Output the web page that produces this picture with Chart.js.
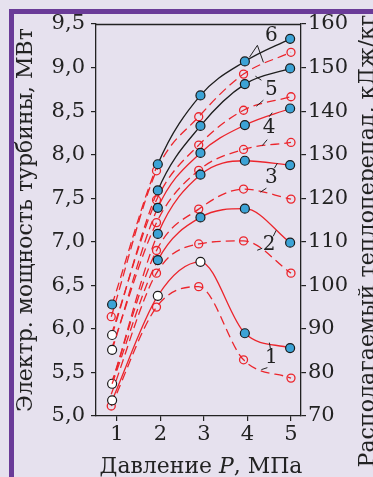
<!DOCTYPE html>
<html><head><meta charset="utf-8">
<script src="https://cdn.jsdelivr.net/npm/chart.js@4"></script>
<style>html,body{margin:0;padding:0;background:#e6e1ee;} #wrap{width:373px;height:477px;position:relative;}</style>
</head><body><div id="wrap"><canvas id="c"></canvas></div>
<script>
// ---- data ----
const pressureSolid  = [0.89, 1.94, 2.92, 3.94, 4.98];   // MPa
const pressureDashed = [0.87, 1.91, 2.88, 3.91, 5.00];   // MPa
// Electric power of the turbine, MW (left axis, solid lines)
const power1 = [5.18, 6.38, 6.77, 5.95, 5.78];
const power2 = [5.37, 6.79, 7.28, 7.38, 6.99];
const power3 = [5.37, 7.09, 7.77, 7.93, 7.88];
const power4 = [5.76, 7.39, 8.02, 8.34, 8.53];
const power5 = [5.93, 7.59, 8.33, 8.81, 8.99];
const power6 = [6.28, 7.89, 8.68, 9.07, 9.33];
// Available heat drop, kJ/kg (right axis, dashed lines)
const heat1 = [72.3, 95.0, 99.7, 82.9, 78.7];
const heat2 = [75.0, 102.8, 109.5, 110.2, 102.8];
const heat3 = [77.4, 108.0, 117.5, 122.1, 119.8];
const heat4 = [85.2, 114.4, 126.4, 131.2, 132.8];
const heat5 = [88.6, 119.6, 132.2, 140.2, 143.3];
const heat6 = [92.8, 126.3, 138.7, 148.5, 153.5];
const curveNames = ['1','2','3','4','5','6'];
const xTicks = [1, 2, 3, 4, 5];
const powerTicks = [5.0, 5.5, 6.0, 6.5, 7.0, 7.5, 8.0, 8.5, 9.0, 9.5];
const heatTicks = [70, 80, 90, 100, 110, 120, 130, 140, 150, 160];

// ---- style ----
const RED = '#ec252c', BLACK = '#1e1e1e', BLUE = '#3ca3d6', BG = '#e6e1ee', PURPLE = '#6a3b98', INK = '#222';
const DASH = [9, 5];
const SERIF = '"DejaVu Serif", "Liberation Serif", serif';
const solidSeries = [power1, power2, power3, power4, power5, power6];
const heatSeries = [heat1, heat2, heat3, heat4, heat5, heat6];
const solidMarks = [['w','w','w','b','b'],['n','b','b','b','b'],['w','b','b','b','b'],['w','b','b','b','b'],['w','b','b','b','b'],['b','b','b','b','b']];
const solidColors = [RED, RED, RED, RED, BLACK, BLACK];

const datasets = [];
heatSeries.forEach((vals, i) => {
  const marks = (i === 0 || i === 5) ? ['r','r','r','r','r'] : ['n','r','r','r','r'];
  datasets.push({
    data: vals.map((v, j) => ({x: pressureDashed[j], y: v})),
    yAxisID: 'y2', borderColor: RED, borderWidth: 1.3, borderDash: DASH,
    pointRadius: marks.map(m => m === 'n' ? 0 : 4),
    pointBorderColor: RED, pointBackgroundColor: 'rgba(0,0,0,0)', pointBorderWidth: 1.3,
    cubicInterpolationMode: 'monotone', fill: false, order: 2
  });
});
solidSeries.forEach((vals, i) => {
  const marks = solidMarks[i];
  datasets.push({
    data: vals.map((v, j) => ({x: pressureSolid[j], y: v})),
    yAxisID: 'y', borderColor: solidColors[i], borderWidth: 1.3,
    segment: {
      borderDash: ctx => (i > 0 && ctx.p0DataIndex === 0) ? DASH : undefined,
      borderColor: ctx => (i > 0 && ctx.p0DataIndex === 0) ? RED : undefined
    },
    pointRadius: marks.map(m => m === 'n' ? 0 : 4.5),
    pointBackgroundColor: marks.map(m => m === 'b' ? BLUE : '#ffffff'),
    pointBorderColor: '#1a1a1a', pointBorderWidth: 1.2,
    cubicInterpolationMode: 'monotone', fill: false, order: 1
  });
});

// curve labels (data coords) and leader offsets (px)
const labelCfg = [
  {p: 4.55, v: 5.67, lead: [[-1,-9,-2,-15],[-4,10,-10,12]]},
  {p: 4.50, v: 6.96, lead: [[4,-9,7,-15],[-7,3,-12,5]]},
  {p: 4.55, v: 7.73, lead: [[3,-10,6,-15],[-5,10,-11,14]]},
  {p: 4.50, v: 8.31, lead: [[0,-11,3,-15],[-2,12,-7,18]]},
  {p: 4.55, v: 8.74, lead: [[-10,-10,-16,-14],[-8,10,-15,16]]},
  {p: 4.55, v: 9.37, lead: [[-14,10,-22,22],[-14,10,-8,27]]}
];

function fitSize(ctx, parts, target, base) {
  let w = 0;
  parts.forEach(pt => { ctx.font = `${pt[1]}${base}px ${SERIF}`; w += ctx.measureText(pt[0]).width; });
  return base * target / w;
}
function drawParts(ctx, parts, size, cx, cy) {
  let w = 0;
  parts.forEach(pt => { ctx.font = `${pt[1]}${size}px ${SERIF}`; w += ctx.measureText(pt[0]).width; });
  let x = cx - w / 2;
  ctx.textAlign = 'left'; ctx.textBaseline = 'alphabetic';
  parts.forEach(pt => { ctx.font = `${pt[1]}${size}px ${SERIF}`; ctx.fillText(pt[0], x, cy); x += ctx.measureText(pt[0]).width; });
}

const deco = {
  id: 'deco',
  beforeDraw(chart) {
    const ctx = chart.ctx;
    ctx.save();
    ctx.fillStyle = BG; ctx.fillRect(0, 0, chart.width, chart.height);
    ctx.fillStyle = PURPLE;
    ctx.fillRect(9, 9, chart.width - 9, 5);
    ctx.fillRect(9, 9, 5, chart.height - 9);
    ctx.restore();
  },
  afterDraw(chart) {
    const ctx = chart.ctx, a = chart.chartArea;
    ctx.save();
    ctx.strokeStyle = INK; ctx.lineWidth = 1.3;
    ctx.beginPath(); ctx.moveTo(a.left, a.top + 0.5); ctx.lineTo(a.right, a.top + 0.5); ctx.stroke();
    ctx.fillStyle = INK;
    // x title
    const xParts = [['Давление ', ''], ['P', 'italic '], [', МПа', '']];
    const xs = fitSize(ctx, xParts, 203, 20);
    drawParts(ctx, xParts, xs, 201, 473);
    // left title
    const lt = [['Электр. мощность турбины, МВт', '']];
    const ls = fitSize(ctx, lt, 384, 20);
    ctx.save(); ctx.translate(32, 220); ctx.rotate(-Math.PI / 2); drawParts(ctx, lt, ls, 0, 0); ctx.restore();
    // right title
    const rt = [['Располагаемый теплоперепад, кДж/кг', '']];
    const rs = fitSize(ctx, rt, 453, 20);
    ctx.save(); ctx.translate(374, 241); ctx.rotate(-Math.PI / 2); drawParts(ctx, rt, rs, 0, 0); ctx.restore();
    // curve labels
    const sx = chart.scales.x, sy = chart.scales.y;
    ctx.font = `20px ${SERIF}`; ctx.textAlign = 'center'; ctx.textBaseline = 'middle';
    ctx.lineWidth = 1;
    labelCfg.forEach((c, i) => {
      const lx = sx.getPixelForValue(c.p), ly = sy.getPixelForValue(c.v);
      ctx.fillText(curveNames[i], lx, ly);
      c.lead.forEach(l => { ctx.beginPath(); ctx.moveTo(lx + l[0], ly + l[1]); ctx.lineTo(lx + l[2], ly + l[3]); ctx.stroke(); });
    });
    ctx.restore();
  }
};

const tickFont = {family: SERIF, size: 21};
new Chart(document.getElementById('c'), {
  type: 'line',
  data: {datasets},
  options: {
    responsive: true, maintainAspectRatio: false, animation: false,
    layout: {padding: {top: 24, left: 0, right: 0, bottom: 0}},
    plugins: {legend: {display: false}, tooltip: {enabled: false}},
    scales: {
      x: {type: 'linear', min: 0.52, max: 5.23,
        afterBuildTicks: s => { s.ticks = xTicks.map(v => ({value: v})); },
        afterFit: s => { s.height = 61; },
        ticks: {font: tickFont, color: INK, padding: 1, maxRotation: 0, callback: v => String(v)},
        grid: {drawOnChartArea: false, tickLength: 5, color: INK, lineWidth: 1.2},
        border: {color: INK, width: 1.3}},
      y: {position: 'left', min: 5, max: 9.5,
        afterBuildTicks: s => { s.ticks = powerTicks.map(v => ({value: v})); },
        afterFit: s => { s.width = 96; },
        ticks: {font: tickFont, color: INK, padding: 6, callback: v => v.toFixed(1).replace('.', ',')},
        grid: {drawOnChartArea: false, tickLength: 5, color: INK, lineWidth: 1.2},
        border: {color: INK, width: 1.3}},
      y2: {position: 'right', min: 70, max: 160,
        afterBuildTicks: s => { s.ticks = heatTicks.map(v => ({value: v})); },
        afterFit: s => { s.width = 72; },
        ticks: {font: tickFont, color: INK, padding: 2, callback: v => String(v)},
        grid: {drawOnChartArea: false, tickLength: 5, color: INK, lineWidth: 1.2},
        border: {color: INK, width: 1.3}}
    }
  },
  plugins: [deco]
});
</script>
</body></html>
